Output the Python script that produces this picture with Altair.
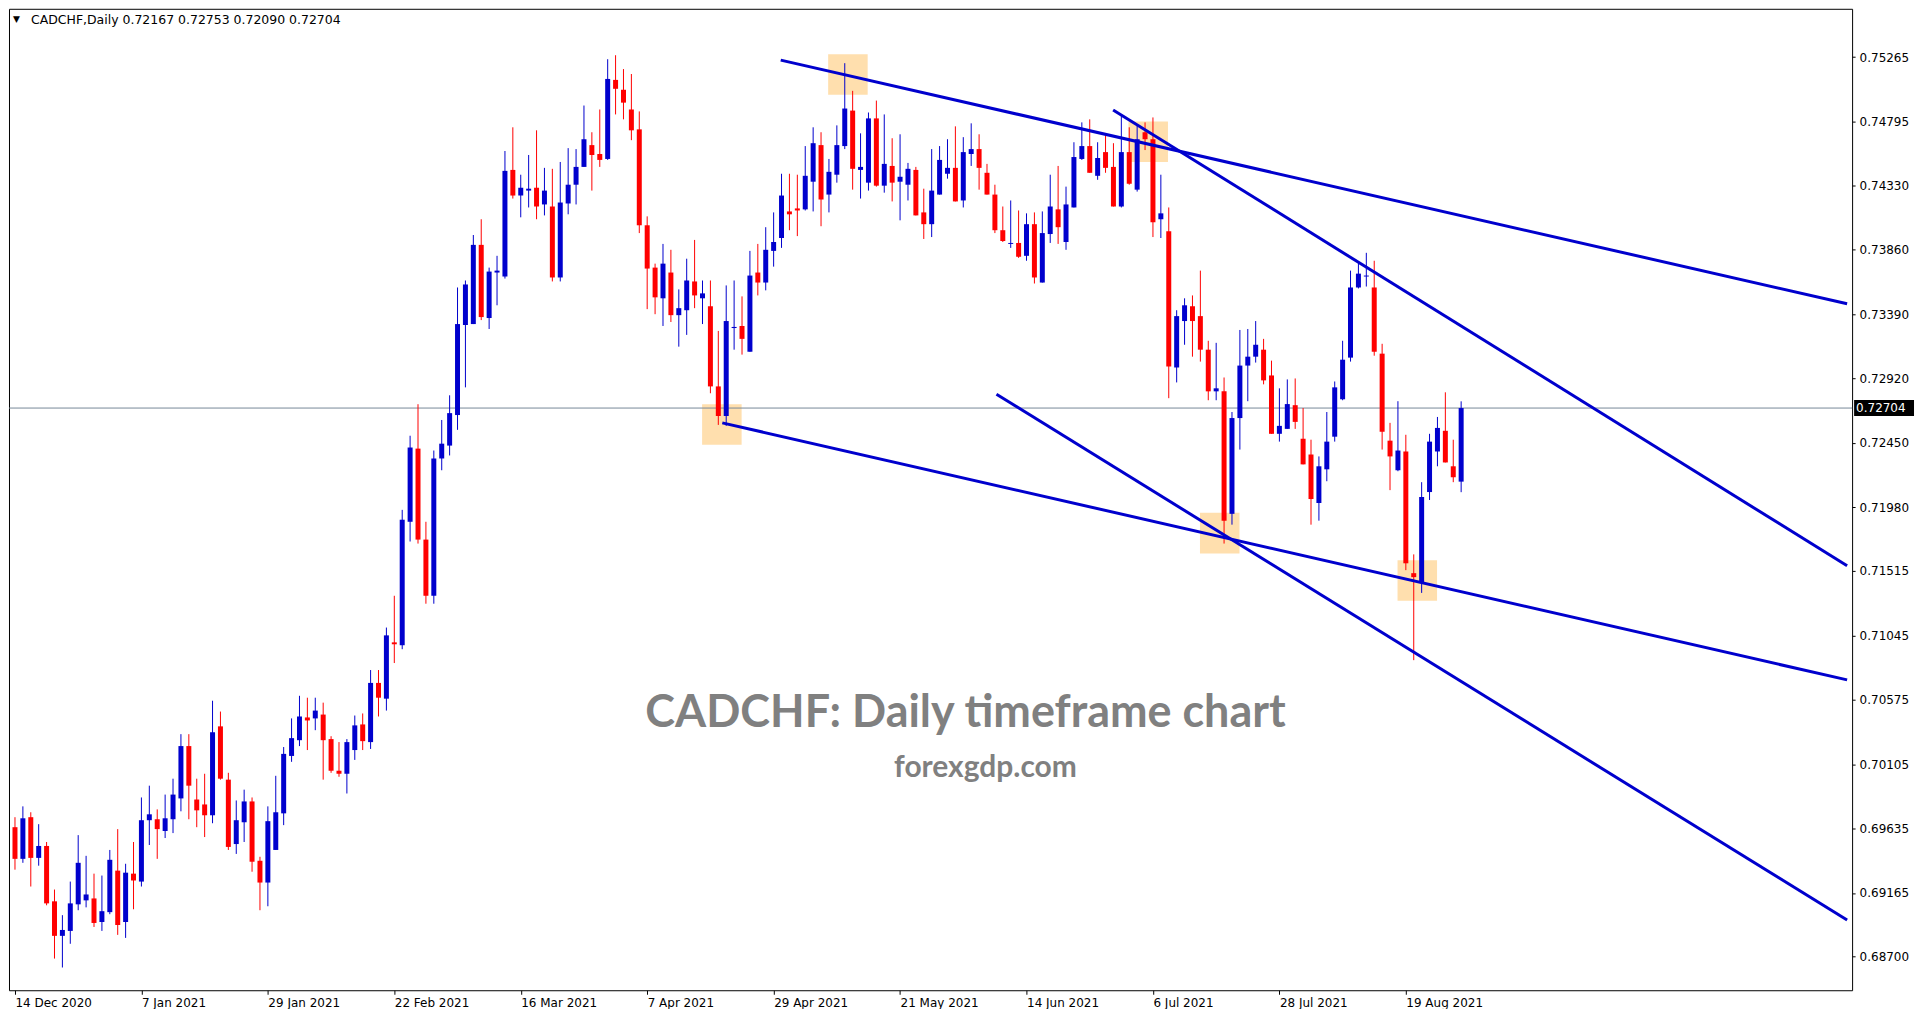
import json
import altair as alt
import pandas as pd

# ---------------- data ----------------
date_labels = ["14 Dec 2020", "7 Jan 2021", "29 Jan 2021", "22 Feb 2021", "16 Mar 2021",
               "7 Apr 2021", "29 Apr 2021", "21 May 2021", "14 Jun 2021", "6 Jul 2021",
               "28 Jul 2021", "19 Aug 2021"]
date_bars = [0, 16, 32, 48, 64, 80, 96, 112, 128, 144, 160, 176]

price_ticks = [0.75265, 0.74795, 0.74330, 0.73860, 0.73390, 0.72920, 0.72450, 0.71980,
               0.71515, 0.71045, 0.70575, 0.70105, 0.69635, 0.69165, 0.68700]

opens = [0.69645, 0.69414, 0.69718, 0.69421, 0.69508, 0.69104, 0.68852, 0.68888, 0.69082, 0.69111,
         0.69125, 0.68953, 0.69025, 0.69328, 0.68953, 0.69306, 0.69248, 0.69696, 0.69703, 0.69617,
         0.69703, 0.69855, 0.70237, 0.69847, 0.69811, 0.69732, 0.70381, 0.69992, 0.69522, 0.69681,
         0.69833, 0.69400, 0.69241, 0.69479, 0.69746, 0.70165, 0.70280, 0.70446, 0.70439, 0.70467,
         0.70288, 0.70057, 0.70035, 0.70208, 0.70395, 0.70266, 0.70698, 0.70583, 0.70994, 0.70973,
         0.71874, 0.72408, 0.71744, 0.71334, 0.72336, 0.72430, 0.72653, 0.73310, 0.73317, 0.73895,
         0.73361, 0.73693, 0.73664, 0.74442, 0.74255, 0.74291, 0.74312, 0.74190, 0.74175, 0.73657,
         0.74197, 0.74334, 0.74464, 0.74623, 0.74558, 0.74522, 0.75099, 0.75027, 0.74883, 0.74738,
         0.74038, 0.73729, 0.73505, 0.73693, 0.73382, 0.73418, 0.73628, 0.73505, 0.73447, 0.72862,
         0.72646, 0.73288, 0.73303, 0.73115, 0.73693, 0.73620, 0.73851, 0.73945, 0.74139, 0.74161,
         0.74154, 0.74356, 0.74623, 0.74262, 0.74407, 0.74616, 0.74875, 0.74442, 0.74349, 0.74818,
         0.74327, 0.74471, 0.74356, 0.74334, 0.74442, 0.74132, 0.74046, 0.74262, 0.74414, 0.74457,
         0.74219, 0.74558, 0.74594, 0.74421, 0.74262, 0.74002, 0.73902, 0.73909, 0.73815, 0.74046,
         0.73620, 0.73974, 0.74154, 0.73916, 0.74168, 0.74522, 0.74616, 0.74399, 0.74572, 0.74464,
         0.74175, 0.74572, 0.74298, 0.74717, 0.74666, 0.74082, 0.73995, 0.73000, 0.73339, 0.73447,
         0.73375, 0.73130, 0.72826, 0.72826, 0.71932, 0.72631, 0.73014, 0.73079, 0.73130, 0.72942,
         0.72516, 0.72552, 0.72725, 0.72480, 0.72365, 0.72011, 0.72257, 0.72495, 0.72768, 0.73072,
         0.73584, 0.73664, 0.73584, 0.73101, 0.72466, 0.72250, 0.72387, 0.71499, 0.71434, 0.72091,
         0.72387, 0.72538, 0.72279, 0.72167]

highs = [0.69718, 0.69797, 0.69754, 0.69667, 0.69537, 0.69190, 0.69003, 0.69248, 0.69587, 0.69436,
         0.69306, 0.69292, 0.69479, 0.69631, 0.69378, 0.69537, 0.69862, 0.69948, 0.69775, 0.69883,
         0.69999, 0.70324, 0.70324, 0.69999, 0.70035, 0.70568, 0.70489, 0.70042, 0.69840, 0.69919,
         0.69862, 0.69429, 0.69797, 0.70020, 0.70230, 0.70439, 0.70604, 0.70590, 0.70590, 0.70554,
         0.70309, 0.70266, 0.70288, 0.70460, 0.70475, 0.70792, 0.70792, 0.71102, 0.71334, 0.71961,
         0.72502, 0.72732, 0.71874, 0.72394, 0.72617, 0.72797, 0.73584, 0.73635, 0.73967, 0.74082,
         0.73729, 0.73815, 0.74580, 0.74753, 0.74407, 0.74551, 0.74731, 0.74457, 0.74450, 0.74500,
         0.74601, 0.74594, 0.74912, 0.74717, 0.74883, 0.75250, 0.75279, 0.75178, 0.75142, 0.74869,
         0.74103, 0.73758, 0.73902, 0.73859, 0.73570, 0.73794, 0.73931, 0.73635, 0.73635, 0.73267,
         0.73599, 0.73635, 0.73519, 0.73851, 0.73902, 0.74024, 0.74132, 0.74414, 0.74414, 0.74407,
         0.74616, 0.74753, 0.74717, 0.74522, 0.74767, 0.75221, 0.75019, 0.74709, 0.74861, 0.74948,
         0.74847, 0.74673, 0.74702, 0.74493, 0.74464, 0.74305, 0.74594, 0.74616, 0.74666, 0.74760,
         0.74681, 0.74782, 0.74702, 0.74486, 0.74334, 0.74175, 0.74219, 0.74146, 0.74125, 0.74132,
         0.74139, 0.74407, 0.74471, 0.74320, 0.74644, 0.74789, 0.74811, 0.74644, 0.74695, 0.74637,
         0.74839, 0.74753, 0.74767, 0.74789, 0.74825, 0.74407, 0.74168, 0.73418, 0.73505, 0.73526,
         0.73707, 0.73195, 0.73180, 0.72927, 0.72675, 0.73274, 0.73281, 0.73339, 0.73209, 0.73050,
         0.72848, 0.72913, 0.72920, 0.72704, 0.72473, 0.72351, 0.72675, 0.72898, 0.73195, 0.73707,
         0.73765, 0.73837, 0.73779, 0.73173, 0.72596, 0.72754, 0.72509, 0.71636, 0.72163, 0.72516,
         0.72639, 0.72819, 0.72473, 0.72753]

lows = [0.69335, 0.69385, 0.69212, 0.69364, 0.69075, 0.68686, 0.68621, 0.68794, 0.69039, 0.69060,
        0.68917, 0.68888, 0.69010, 0.68859, 0.68837, 0.69046, 0.69212, 0.69515, 0.69414, 0.69566,
        0.69602, 0.69761, 0.69703, 0.69645, 0.69573, 0.69674, 0.69992, 0.69479, 0.69450, 0.69537,
        0.69320, 0.69039, 0.69068, 0.69479, 0.69660, 0.70122, 0.70237, 0.70208, 0.70353, 0.69992,
        0.70042, 0.70013, 0.69891, 0.70136, 0.70208, 0.70216, 0.70453, 0.70496, 0.70843, 0.70944,
        0.71730, 0.71715, 0.71276, 0.71276, 0.72250, 0.72358, 0.72545, 0.72855, 0.73317, 0.73346,
        0.73281, 0.73454, 0.73649, 0.74233, 0.74096, 0.74168, 0.74082, 0.74110, 0.73628, 0.73628,
        0.74118, 0.74190, 0.74464, 0.74291, 0.74464, 0.74515, 0.74847, 0.74811, 0.74659, 0.73981,
        0.73426, 0.73389, 0.73303, 0.73332, 0.73152, 0.73238, 0.73433, 0.73317, 0.72812, 0.72581,
        0.72574, 0.73130, 0.73094, 0.73115, 0.73526, 0.73563, 0.73736, 0.73873, 0.74002, 0.73959,
        0.74146, 0.74139, 0.74031, 0.74132, 0.74349, 0.74594, 0.74298, 0.74233, 0.74291, 0.74320,
        0.74276, 0.74212, 0.74074, 0.74219, 0.74110, 0.73938, 0.73952, 0.74262, 0.74378, 0.74212,
        0.74168, 0.74471, 0.74298, 0.74262, 0.73981, 0.73916, 0.73873, 0.73800, 0.73779, 0.73613,
        0.73620, 0.73909, 0.73902, 0.73859, 0.74168, 0.74515, 0.74421, 0.74370, 0.74421, 0.74175,
        0.74168, 0.74334, 0.74284, 0.74587, 0.73952, 0.73945, 0.72776, 0.72891, 0.73166, 0.73079,
        0.73043, 0.72761, 0.72761, 0.71715, 0.71853, 0.72401, 0.72754, 0.73036, 0.72877, 0.72516,
        0.72459, 0.72552, 0.72552, 0.72293, 0.71853, 0.71882, 0.72170, 0.72459, 0.72761, 0.73043,
        0.73577, 0.73591, 0.73086, 0.72401, 0.72105, 0.72243, 0.71521, 0.70864, 0.71355, 0.72033,
        0.72279, 0.72307, 0.72163, 0.72090]

closes = [0.69414, 0.69710, 0.69421, 0.69508, 0.69089, 0.68852, 0.68895, 0.69089, 0.69385, 0.69154,
          0.68946, 0.69032, 0.69407, 0.68931, 0.69313, 0.69256, 0.69696, 0.69739, 0.69631, 0.69710,
          0.69883, 0.70237, 0.69948, 0.69768, 0.69732, 0.70338, 0.69999, 0.69501, 0.69696, 0.69833,
          0.69393, 0.69241, 0.69689, 0.69754, 0.70180, 0.70295, 0.70453, 0.70424, 0.70496, 0.70280,
          0.70057, 0.70035, 0.70266, 0.70388, 0.70273, 0.70698, 0.70590, 0.71045, 0.70980, 0.71889,
          0.72416, 0.71744, 0.71334, 0.72336, 0.72444, 0.72667, 0.73317, 0.73606, 0.73895, 0.73368,
          0.73700, 0.73707, 0.74435, 0.74255, 0.74312, 0.74305, 0.74175, 0.74291, 0.73657, 0.74204,
          0.74334, 0.74464, 0.74666, 0.74551, 0.74515, 0.75106, 0.75034, 0.74933, 0.74731, 0.74038,
          0.73722, 0.73512, 0.73758, 0.73382, 0.73433, 0.73635, 0.73526, 0.73541, 0.72862, 0.72646,
          0.73339, 0.73296, 0.73209, 0.73671, 0.73620, 0.73859, 0.73916, 0.74255, 0.74118, 0.74146,
          0.74399, 0.74637, 0.74226, 0.74428, 0.74623, 0.74890, 0.74450, 0.74464, 0.74818, 0.74327,
          0.74486, 0.74349, 0.74392, 0.74450, 0.74110, 0.74046, 0.74291, 0.74515, 0.74457, 0.74212,
          0.74572, 0.74594, 0.74457, 0.74262, 0.74002, 0.73923, 0.73909, 0.73808, 0.74046, 0.73657,
          0.73981, 0.74175, 0.74024, 0.74190, 0.74536, 0.74616, 0.74421, 0.74529, 0.74457, 0.74175,
          0.74572, 0.74341, 0.74666, 0.74666, 0.74060, 0.74125, 0.73007, 0.73375, 0.73454, 0.73339,
          0.73130, 0.72826, 0.72848, 0.71882, 0.72631, 0.73014, 0.73079, 0.73166, 0.72906, 0.72516,
          0.72574, 0.72733, 0.72603, 0.72293, 0.72040, 0.72279, 0.72459, 0.72855, 0.73057, 0.73584,
          0.73685, 0.73671, 0.73115, 0.72531, 0.72351, 0.72394, 0.71571, 0.71470, 0.72055, 0.72459,
          0.72559, 0.72307, 0.72199, 0.72704]

# trend lines (bar index / price of both ends)
line_x0 = [96.9, 138.96, 89.5, 124.2]
line_p0 = [0.75243, 0.74880, 0.72596, 0.72805]
line_x1 = [231.84, 231.84, 231.84, 231.84]
line_p1 = [0.73465, 0.71553, 0.70720, 0.68967]

# highlight boxes
box_x0 = [102.9, 140.9, 149.95, 174.95, 86.95]
box_x1 = [107.9, 145.9, 154.95, 179.95, 91.95]
box_p0 = [0.75287, 0.74796, 0.71939, 0.71593, 0.72732]
box_p1 = [0.74991, 0.74500, 0.71643, 0.71298, 0.72437]

last_price = [0.72704]
header_text = "CADCHF,Daily  0.72167 0.72753 0.72090 0.72704"
title_text = "CADCHF: Daily timeframe chart"
site_text = "forexgdp.com"

# ---------------- chart ----------------
W, H = 1846, 983
BLUE = "#0000CD"
RED = "#FF0000"
FONT = "DejaVu Sans"

candles = pd.DataFrame({"i": list(range(len(opens))), "o": opens, "h": highs,
                        "l": lows, "c": closes})
candles["dir"] = ["up" if c >= o else "down" for o, c in zip(opens, closes)]

xs = alt.Scale(domain=[-0.125, 231.84], nice=False, zero=False)
ys = alt.Scale(domain=[0.68455, 0.75618], nice=False, zero=False)
col = alt.Scale(domain=["up", "down"], range=[BLUE, RED])

label_expr = json.dumps(date_labels) + "[round(datum.value / 16)]"

x_axis = alt.Axis(values=date_bars, labelExpr=label_expr, labelAlign="left", labelBaseline="top",
                  labelPadding=3, labelFont=FONT, labelFontSize=12, labelColor="black",
                  tickColor="black", tickSize=4, domain=False, grid=False, title=None,
                  labelOverlap=False, labelFlush=False)
y_axis = alt.Axis(values=price_ticks, format=".5f", orient="right", labelFont=FONT,
                  labelFontSize=12, labelColor="black", tickColor="black", tickSize=3,
                  labelPadding=4, domain=False, grid=False, title=None, labelOverlap=False,
                  labelFlush=False)


def X(field):
    return alt.X(field, scale=xs, axis=x_axis)


def Y(field):
    return alt.Y(field, scale=ys, axis=y_axis)


boxes_df = pd.DataFrame({"x0": box_x0, "x1": box_x1, "p0": box_p0, "p1": box_p1})
boxes = alt.Chart(boxes_df).mark_rect(color="#FFDFAE", clip=True).encode(
    x=X("x0:Q"), x2="x1:Q", y=Y("p0:Q"), y2="p1:Q")

price_df = pd.DataFrame({"p": last_price, "lbl": [f"{v:.5f}" for v in last_price]})
price_line = alt.Chart(price_df).mark_rule(color="#778899", strokeWidth=1).encode(
    y=Y("p:Q"))

wicks = alt.Chart(candles).mark_rule(strokeWidth=1).encode(
    x=X("i:Q"), y=Y("l:Q"), y2="h:Q",
    color=alt.Color("dir:N", scale=col, legend=None))

bodies = alt.Chart(candles).mark_bar(width=5).encode(
    x=X("i:Q"), y=Y("o:Q"), y2="c:Q",
    color=alt.Color("dir:N", scale=col, legend=None))

rows = []
for k in range(len(line_x0)):
    rows.append({"line": k, "x": line_x0[k], "p": line_p0[k]})
    rows.append({"line": k, "x": line_x1[k], "p": line_p1[k]})
lines_df = pd.DataFrame(rows)
trend = alt.Chart(lines_df).mark_line(color=BLUE, strokeWidth=3, clip=True).encode(
    x=X("x:Q"), y=Y("p:Q"), detail="line:N")

tag_box = alt.Chart(price_df).mark_rule(color="black", strokeWidth=16).encode(
    y=Y("p:Q"), x=alt.value(W + 2), x2=alt.value(W + 62))
tag_text = alt.Chart(price_df).mark_text(color="white", align="left", baseline="middle",
                                         font=FONT, fontSize=12).encode(
    y=Y("p:Q"), x=alt.value(W + 4), text="lbl:N")

hdr_df = pd.DataFrame({"t": [header_text], "tri": ["\u25BC"]})
hdr = alt.Chart(hdr_df).mark_text(align="left", baseline="middle", font=FONT, fontSize=12.5,
                                  color="black").encode(
    x=alt.value(22), y=alt.value(11), text="t:N")
tri = alt.Chart(hdr_df).mark_text(align="left", baseline="middle", font=FONT, fontSize=9,
                                  color="black").encode(
    x=alt.value(4), y=alt.value(10), text="tri:N")

wm_df = pd.DataFrame({"t": [title_text], "s": [site_text]})
wm1 = alt.Chart(wm_df).mark_text(align="center", baseline="middle", font="Lato",
                                 fontWeight="bold", fontSize=45, color="#808080").encode(
    x=alt.value(958), y=alt.value(705), text="t:N")
wm2 = alt.Chart(wm_df).mark_text(align="center", baseline="middle", font="Lato",
                                 fontWeight="bold", fontSize=30, color="#808080").encode(
    x=alt.value(978), y=alt.value(760), text="s:N")

chart = alt.layer(boxes, price_line, wicks, bodies, trend, wm1, wm2, hdr, tri,
                  tag_box, tag_text).properties(
    width=W, height=H, padding={"left": 0, "top": 0, "right": 0, "bottom": 0},
    background="white"
).configure_view(stroke="black", strokeWidth=1)

chart.save("out.html", embed_options={"renderer": "svg", "actions": False})
